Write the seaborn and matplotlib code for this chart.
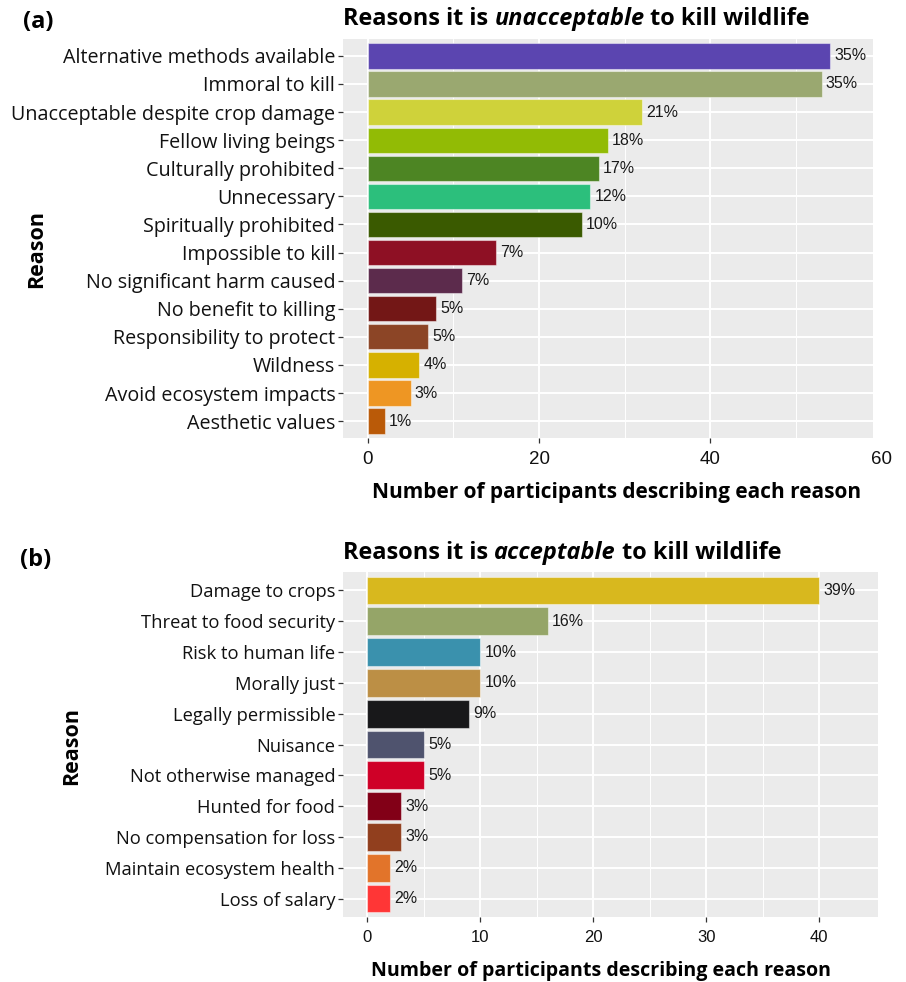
import matplotlib
matplotlib.use("Agg")
import matplotlib.pyplot as plt
import matplotlib.transforms as mtransforms
import seaborn as sns
import pandas as pd

# Reasons it is unacceptable to kill wildlife
reasons_a = [
    "Alternative methods available", "Immoral to kill",
    "Unacceptable despite crop damage", "Fellow living beings",
    "Culturally prohibited", "Unnecessary", "Spiritually prohibited",
    "Impossible to kill", "No significant harm caused",
    "No benefit to killing", "Responsibility to protect", "Wildness",
    "Avoid ecosystem impacts", "Aesthetic values",
]
counts_a = [54, 53, 32, 28, 27, 26, 25, 15, 11, 8, 7, 6, 5, 2]
pct_a = ["35%", "35%", "21%", "18%", "17%", "12%", "10%", "7%", "7%",
         "5%", "5%", "4%", "3%", "1%"]
colors_a = ["#5B45B0", "#9AA870", "#CFD23A", "#92BB05", "#4D8523",
            "#2CBF7C", "#3A5A00", "#8E1024", "#5C2B4C", "#731716",
            "#8C4526", "#D6B100", "#EE9623", "#BA5A08"]

# Reasons it is acceptable to kill wildlife
reasons_b = [
    "Damage to crops", "Threat to food security", "Risk to human life",
    "Morally just", "Legally permissible", "Nuisance",
    "Not otherwise managed", "Hunted for food", "No compensation for loss",
    "Maintain ecosystem health", "Loss of salary",
]
counts_b = [40, 16, 10, 10, 9, 5, 5, 3, 3, 2, 2]
pct_b = ["39%", "16%", "10%", "10%", "9%", "5%", "5%", "3%", "3%",
         "2%", "2%"]
colors_b = ["#D8B81E", "#95A568", "#3A91AD", "#BC8F45", "#18181A",
            "#4F536E", "#CF0027", "#820017", "#913F1E", "#E2742A",
            "#FF3636"]

sns.set_theme(style="darkgrid", rc={
    "axes.facecolor": "#EBEBEB",
    "grid.color": "white",
    "axes.edgecolor": "#EBEBEB",
})
LABEL_FONT = ["Open Sans", "DejaVu Sans"]
NUM_FONT = ["Liberation Sans", "DejaVu Sans"]
plt.rcParams["font.family"] = LABEL_FONT

W, H = 906, 982
fig = plt.figure(figsize=(W / 100, H / 100), dpi=100)
fig.patch.set_facecolor("white")


def px_axes(l, t, r, b):
    return fig.add_axes([l / W, 1 - b / H, (r - l) / W, (b - t) / H])


ax1 = px_axes(343, 39, 873, 438)
ax2 = px_axes(343, 572, 878, 917)


def draw_panel(ax, reasons, counts, pcts, colors, xlim, major, minor,
               ylab_size, xtick_size, xlab_size, xlab_xy, title_mid, title_y,
               ylabel_xy, extra_tick=None):
    df = pd.DataFrame({"Reason": reasons, "Count": counts})
    pal = dict(zip(reasons, colors))
    sns.barplot(data=df, x="Count", y="Reason", hue="Reason", order=reasons,
                hue_order=reasons, palette=pal, legend=False, width=0.9,
                saturation=1, edgecolor=(1, 1, 1, 0.45), linewidth=0.8,
                ax=ax, zorder=3)
    ax.set_xlim(*xlim)
    ax.set_ylim(len(reasons) - 0.4, -0.6)
    ax.set_xticks(major)
    ax.set_xticks(minor, minor=True)
    ax.grid(which="major", color="white", linewidth=1.4, zorder=0)
    ax.grid(which="minor", axis="x", color="white", linewidth=0.7, zorder=0)
    ax.set_axisbelow(True)
    for s in ax.spines.values():
        s.set_visible(False)
    ax.tick_params(axis="both", which="major", length=3.5, width=0.9,
                   color="#333333", bottom=True, left=True, pad=2)
    ax.tick_params(axis="both", which="minor", length=0)
    for lab in ax.get_yticklabels():
        lab.set_fontsize(ylab_size)
        lab.set_color("#111111")
        lab.set_family(LABEL_FONT)
    for lab in ax.get_xticklabels():
        lab.set_fontsize(xtick_size)
        lab.set_color("#111111")
        lab.set_family(NUM_FONT)
    ax.tick_params(axis="x", pad=6)
    if extra_tick is not None:
        trans = mtransforms.blended_transform_factory(ax.transData,
                                                      ax.transAxes)
        ax.annotate(str(extra_tick), xy=(extra_tick, 0), xycoords=trans,
                    xytext=(0, -(3.5 + 6)), textcoords="offset points",
                    ha="center", va="top", fontsize=xtick_size,
                    color="#111111", family=NUM_FONT,
                    annotation_clip=False)
    # value labels
    for i, (c, p) in enumerate(zip(counts, pcts)):
        ax.annotate(p, xy=(c, i), xytext=(3, 0), textcoords="offset points",
                    ha="left", va="center", fontsize=11.5, color="#1a1a1a",
                    family=NUM_FONT, zorder=4)
    ax.set_xlabel("Number of participants describing each reason",
                  fontsize=xlab_size, fontweight="bold", color="black")
    ax.xaxis.set_label_coords(*xlab_xy)
    ax.set_ylabel("")
    fig.text(ylabel_xy[0] / W, 1 - ylabel_xy[1] / H, "Reason", rotation=90,
             ha="center", va="center", fontsize=15.5, fontweight="bold",
             color="black")
    # title with an italic word
    t1 = fig.text(343 / W, 1 - title_y / H, "Reasons it is ", fontsize=16.9,
                  fontweight="bold", ha="left", va="center", color="black")
    a2 = ax.annotate(title_mid, xy=(1, 0), xycoords=t1, fontsize=16.9,
                     fontweight="bold", fontstyle="italic", va="bottom",
                     ha="left", color="black", annotation_clip=False)
    ax.annotate(" to kill wildlife", xy=(1, 0), xycoords=a2, fontsize=16.9,
                fontweight="bold", va="bottom", ha="left", color="black",
                annotation_clip=False)


draw_panel(ax1, reasons_a, counts_a, pct_a, colors_a, (-2.9, 59.0),
           [0, 20, 40], [10, 30, 50], 14.2, 13.5, 15, (0.517, -0.11),
           "unacceptable", 19, (37, 249), extra_tick=60)
draw_panel(ax2, reasons_b, counts_b, pct_b, colors_b, (-2.15, 45.2),
           [0, 10, 20, 30, 40], [5, 15, 25, 35], 13.2, 12, 14.1,
           (0.482, -0.127), "acceptable", 553, (72, 746))

fig.text(38 / W, 1 - 22 / H, "(a)", fontsize=17, fontweight="bold",
         ha="center", va="center", color="black")
fig.text(36 / W, 1 - 560 / H, "(b)", fontsize=17, fontweight="bold",
         ha="center", va="center", color="black")

fig.savefig("out.png", dpi=100)
